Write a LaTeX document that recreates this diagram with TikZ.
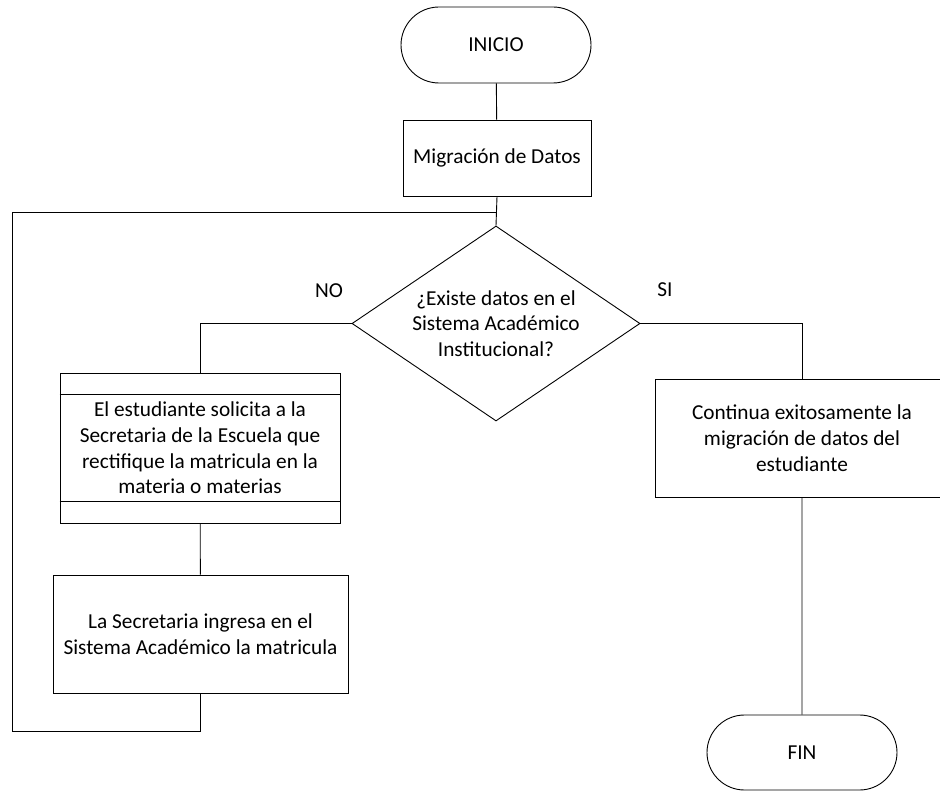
\documentclass[tikz,border=0pt]{standalone}
\usepackage{fontspec}
\setmainfont{Carlito}
\usetikzlibrary{shapes.geometric,shapes.misc}
\begin{document}
\begin{tikzpicture}[x=1pt,y=-1pt,
  line width=0.9pt,
  every node/.style={font=\fontsize{21.3}{25.7}\selectfont, align=center, inner sep=0pt},
  terminal/.style={draw, rounded rectangle, minimum width=190pt, minimum height=76pt},
  stepbox/.style={draw, rectangle},
  decision/.style={draw, diamond, minimum width=288pt, minimum height=195pt}]
\useasboundingbox (0,0) rectangle (940,791);
\clip (0,0) rectangle (940,791);

% main column
\node[terminal] (start) at (496,45) {INICIO};
\node[stepbox, minimum width=188pt, minimum height=76pt] (mig) at (497,158) {Migración de Datos};
\node[decision] (q) at (496,323.5) {};
\node (qtext) at (q) {¿Existe datos en el\\Sistema Académico\\Institucional?};
\node (no) at (329,291) {NO};
\node (si) at (665,290) {SI};

% NO branch
\node[stepbox, minimum width=280pt, minimum height=150pt] (req) at (200,448)
  {El estudiante solicita a la\\Secretaria de la Escuela que\\rectifique la matricula en la\\materia o materias};
\draw ([yshift=-22pt]req.north west) -- ([yshift=-22pt]req.north east);
\draw ([yshift=22pt]req.south west) -- ([yshift=22pt]req.south east);
\node[stepbox, minimum width=295pt, minimum height=118pt] (ing) at (200.5,634)
  {La Secretaria ingresa en el\\Sistema Académico la matricula};

% SI branch
\node[stepbox, minimum width=294pt, minimum height=118pt] (ok) at (802,438)
  {Continua exitosamente la\\migración de datos del\\estudiante};
\node[terminal, minimum height=75pt] (fin) at (802,752.5) {FIN};

% loop-back corners
\coordinate (loopBL) at (12,731);
\coordinate (loopTL) at (12,212);
\coordinate (join) at (496,212);

% connectors
\draw (start) -- (mig);
\draw (mig.south) -- (q.north);
\draw (q.west) -| (req.north);
\draw (req) -- (ing);
\draw (ing.south) |- (loopBL) -- (loopTL) -- (join);
\draw (q.east) -| (ok.north);
\draw (ok) -- (fin);
\end{tikzpicture}
\end{document}
